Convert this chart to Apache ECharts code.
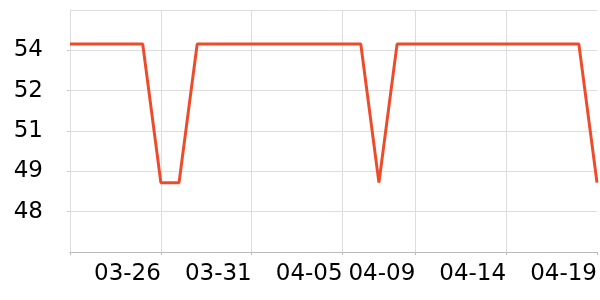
<!DOCTYPE html>
<html>
<head>
<meta charset="utf-8">
<script src="https://cdn.jsdelivr.net/npm/echarts@6/dist/echarts.min.js"></script>
<style>html,body{margin:0;padding:0;background:#fff}#c{width:600px;height:300px}</style>
</head>
<body>
<div id="c"></div>
<script>
const dates = ['03-21','03-22','03-23','03-24','03-25','03-26','03-27','03-28','03-29','03-30',
  '03-31','04-01','04-02','04-03','04-04','04-05','04-06','04-07','04-08','04-09',
  '04-10','04-11','04-12','04-13','04-14','04-15','04-16','04-17','04-18','04-19'];
const values = [54.24,54.24,54.24,54.24,54.24,49.08,49.08,54.24,54.24,54.24,
  54.24,54.24,54.24,54.24,54.24,54.24,54.24,49.08,54.24,54.24,
  54.24,54.24,54.24,54.24,54.24,54.24,54.24,54.24,54.24,49.08];
const xLabelDates = ['03-26','03-31','04-05','04-09','04-14','04-19'];
const xTickDates = ['03-21'].concat(xLabelDates);
const yTicks = [48, 49.5, 51, 52.5, 54];
const yTickLabels = ['48','49','51','52','54'];

const chart = echarts.init(document.getElementById('c'), null, {renderer:'canvas'});
chart.setOption({
  animation: false,
  grid: {left: 70, right: 1, top: 10, bottom: 48},
  xAxis: {
    type: 'category',
    data: dates,
    boundaryGap: false,
    axisLine: {show: true, lineStyle: {color: '#bbbbbb', width: 1}},
    axisTick: {show: true, length: 3, lineStyle: {color: '#bbbbbb'},
      interval: (i, v) => xTickDates.indexOf(v) >= 0},
    splitLine: {show: true, lineStyle: {color: '#dddddd', width: 1},
      interval: (i, v) => xTickDates.indexOf(v) >= 0 && v !== '04-19'},
    axisLabel: {
      interval: (i, v) => xLabelDates.indexOf(v) >= 0,
      align: 'right', color: '#000', fontSize: 23, fontFamily: 'DejaVu Sans', margin: 11
    }
  },
  yAxis: {
    type: 'value',
    min: 46.5, max: 55.5, interval: 1.5,
    axisLine: {show: true, lineStyle: {color: '#dddddd'}},
    axisTick: {show: true, length: 3, lineStyle: {color: '#cccccc'}},
    splitLine: {show: true, lineStyle: {color: '#dddddd', width: 1}},
    axisLabel: {
      showMinLabel: false, showMaxLabel: false,
      color: '#000', fontSize: 23, fontFamily: 'DejaVu Sans', margin: 27,
      formatter: (v) => {
        const k = yTicks.findIndex(t => Math.abs(t - v) < 1e-6);
        return k >= 0 ? yTickLabels[k] : '';
      }
    }
  },
  series: [{
    type: 'line',
    data: values,
    showSymbol: false,
    lineStyle: {color: '#ee4b2b', width: 3},
    itemStyle: {color: '#ee4b2b'}
  }]
});
</script>
</body>
</html>
